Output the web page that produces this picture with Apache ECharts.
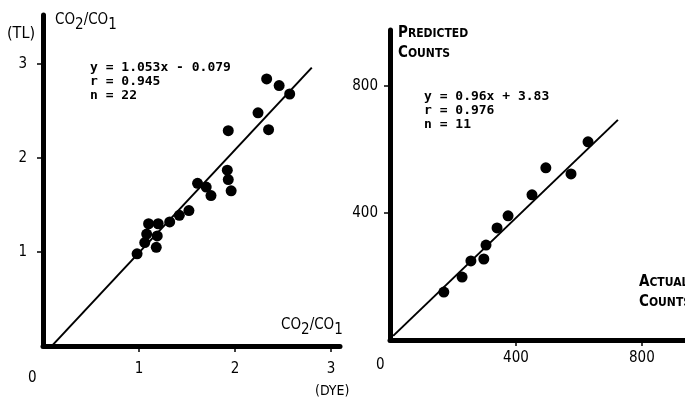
<!DOCTYPE html>
<html>
<head>
<meta charset="utf-8">
<style>
  html, body { margin: 0; padding: 0; background: #fff; }
  #chart { width: 685px; height: 397px; }
</style>
<script src="https://cdn.jsdelivr.net/npm/echarts@6/dist/echarts.min.js"></script>
</head>
<body>
<div id="chart"></div>
<script>
// left panel: CO2/CO1, dye vs TL
var dyeTL = [
  [2.33, 2.84], [2.46, 2.77], [2.57, 2.68], [2.24, 2.48], [1.93, 2.29],
  [2.35, 2.30], [1.92, 1.87], [1.93, 1.77], [1.96, 1.65], [1.61, 1.73],
  [1.70, 1.69], [1.75, 1.60], [1.52, 1.44], [1.42, 1.39], [1.32, 1.32],
  [1.20, 1.30], [1.10, 1.30], [1.08, 1.19], [1.19, 1.17], [1.06, 1.10],
  [1.18, 1.05], [0.98, 0.98]
];
var dyeFit = [[0.10, 0.01], [2.80, 2.96]];
var dyeTicks = [1, 2, 3];
var dyeStats = ['y = 1.053x - 0.079', 'r = 0.945', 'n = 22'];

// right panel: actual vs predicted counts
var counts = [
  [629, 624], [495, 542], [575, 523], [451, 457], [375, 391], [340, 353],
  [305, 299], [257, 249], [298, 255], [229, 198], [171, 151]
];
var countsFit = [[10, 13], [724, 693]];
var countTicks = [400, 800];
var countStats = ['y = 0.96x + 3.83', 'r = 0.976', 'n = 11'];

(function () {
  var chart = echarts.init(document.getElementById('chart'), null, { renderer: 'canvas' });
  var cond = '"DejaVu Sans Condensed", "DejaVu Sans", sans-serif';
  var mono = '"DejaVu Sans Mono", monospace';
  var ink = '#000';

  function axis(opt) {
    return Object.assign({
      type: 'value',
      min: 0,
      splitLine: { show: false },
      axisLine: { show: true, lineStyle: { color: ink, width: 5 } },
      axisTick: { show: true, length: 6, lineStyle: { color: ink, width: 1.5 } },
      axisLabel: { color: ink, fontFamily: cond, fontSize: 15 }
    }, opt);
  }

  function coText(x, y) {
    return {
      type: 'text', left: x, top: y,
      style: {
        text: '{a|CO}{b|2}{a|/CO}{b|1}',
        fill: ink,
        rich: {
          a: { fontFamily: cond, fontSize: 15, fill: ink },
          b: { fontFamily: cond, fontSize: 15, fill: ink, padding: [9, 0, 0, 0] }
        }
      }
    };
  }

  function smallCaps(x, y, first, rest) {
    return {
      type: 'text', left: x, top: y,
      style: {
        text: '{a|' + first + '}{b|' + rest + '}',
        fill: ink,
        rich: {
          a: { fontFamily: cond, fontSize: 15, fontWeight: 'bold', fill: ink },
          b: { fontFamily: cond, fontSize: 12, fontWeight: 'bold', fill: ink }
        }
      }
    };
  }

  function plain(x, y, text, size, font, weight) {
    return {
      type: 'text', left: x, top: y,
      style: { text: text, fill: ink, fontFamily: font || cond, fontSize: size || 15, fontWeight: weight || 'normal' }
    };
  }

  function stats(x, y, lines) {
    return {
      type: 'text', left: x, top: y,
      style: { text: lines.join('\n'), fill: ink, fontFamily: mono, fontSize: 13, fontWeight: 'bold', lineHeight: 14 }
    };
  }

  chart.setOption({
    animation: false,
    grid: [
      { left: 43, top: 15, right: 345, bottom: 51 },
      { left: 390, top: 30, right: 0, bottom: 57 }
    ],
    xAxis: [
      axis({ gridIndex: 0, max: 3.094,
        axisTick: { show: true, length: 6, customValues: dyeTicks, lineStyle: { color: ink, width: 1.5 } },
        axisLabel: { color: ink, fontFamily: cond, fontSize: 15, margin: 16, customValues: dyeTicks } }),
      axis({ gridIndex: 1, max: 937,
        axisTick: { show: true, length: 6, customValues: countTicks, lineStyle: { color: ink, width: 1.5 } },
        axisLabel: { color: ink, fontFamily: cond, fontSize: 15, margin: 11, customValues: countTicks } })
    ],
    yAxis: [
      axis({ gridIndex: 0, max: 3.52,
        axisTick: { show: true, length: 6, customValues: dyeTicks, lineStyle: { color: ink, width: 1.5 } },
        axisLabel: { color: ink, fontFamily: cond, fontSize: 15, margin: 16, customValues: dyeTicks } }),
      axis({ gridIndex: 1, max: 976,
        axisTick: { show: true, length: 6, customValues: countTicks, lineStyle: { color: ink, width: 1.5 } },
        axisLabel: { color: ink, fontFamily: cond, fontSize: 15, margin: 12, customValues: countTicks } })
    ],
    series: [
      { type: 'line', xAxisIndex: 0, yAxisIndex: 0, data: dyeFit, showSymbol: false,
        lineStyle: { color: ink, width: 2 }, z: 3 },
      { type: 'scatter', xAxisIndex: 0, yAxisIndex: 0, data: dyeTL, symbolSize: 11,
        itemStyle: { color: ink, opacity: 1 }, z: 4 },
      { type: 'line', xAxisIndex: 1, yAxisIndex: 1, data: countsFit, showSymbol: false,
        lineStyle: { color: ink, width: 2 }, z: 3 },
      { type: 'scatter', xAxisIndex: 1, yAxisIndex: 1, data: counts, symbolSize: 11,
        itemStyle: { color: ink, opacity: 1 }, z: 4 }
    ],
    graphic: [
      plain(7, 26, '(TL)', 16),
      coText(55, 13),
      coText(281, 318),
      plain(315, 384, '(DYE)', 14),
      plain(28, 371, '0', 15),
      stats(90, 61, dyeStats),
      smallCaps(398, 26, 'P', 'REDICTED'),
      smallCaps(398, 46, 'C', 'OUNTS'),
      smallCaps(639, 275, 'A', 'CTUAL'),
      smallCaps(639, 295, 'C', 'OUNTS'),
      plain(376, 358, '0', 15),
      stats(424, 90, countStats)
    ]
  });
  window.addEventListener('resize', function () { chart.resize(); });
})();
</script>
</body>
</html>
